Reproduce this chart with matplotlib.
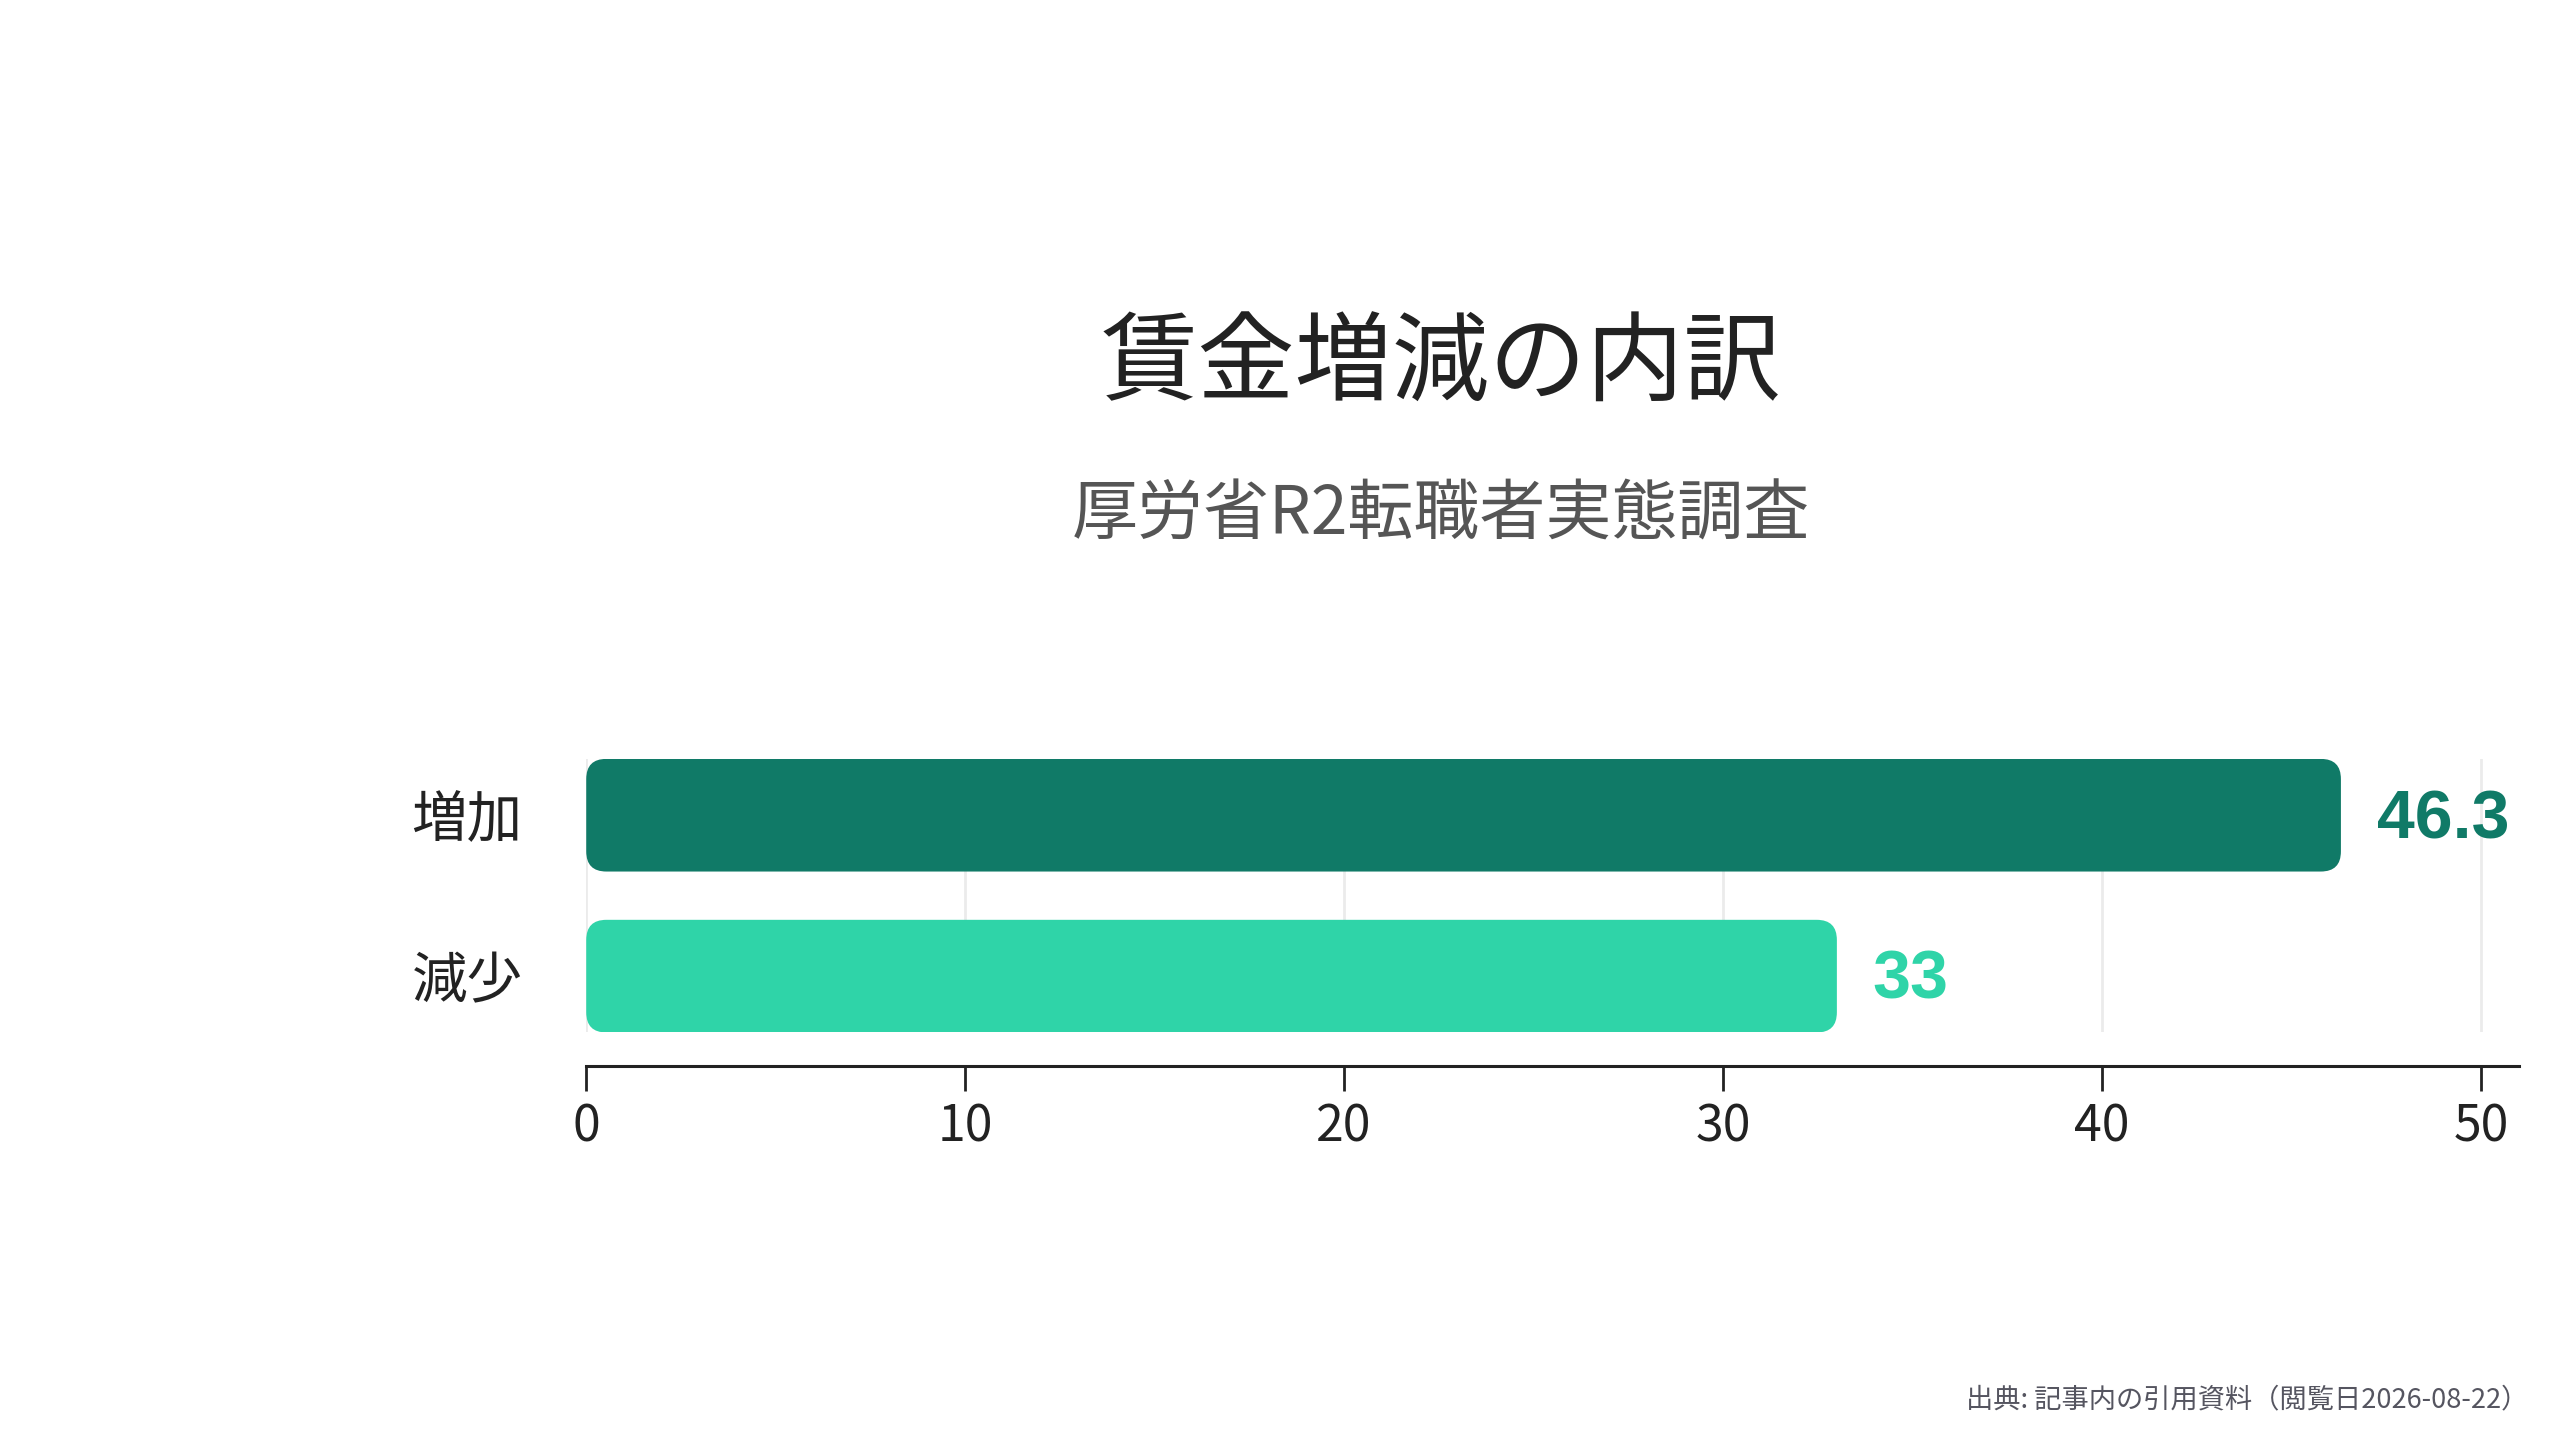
import matplotlib
matplotlib.use('Agg')
import matplotlib.pyplot as plt
from matplotlib.patches import FancyBboxPatch

plt.rcParams['font.family'] = ['Noto Sans CJK JP', 'DejaVu Sans']

# data
categories = ['増加', '減少']
values = [46.3, 33]
bar_colors = ['#107A67', '#2FD4A8']
x_ticks = [0, 10, 20, 30, 40, 50]

title = '賃金増減の内訳'
subtitle = '厚労省R2転職者実態調査'
source = '出典: 記事内の引用資料（閲覧日2026-08-22）'


def main():
    fig = plt.figure(figsize=(25.6, 14.4), dpi=100)
    ax = fig.add_axes([0.229, 0.283, 0.755, 0.190])

    ypos = [1, 0]
    bars = ax.barh(ypos, values, height=0.7, color=bar_colors)

    # swap the plain rectangles for rounded ones
    rx = 0.53
    ry = 0.125
    for rect, col in zip(bars.patches, bar_colors):
        x0, y0 = rect.get_x(), rect.get_y()
        w, h = rect.get_width(), rect.get_height()
        rect.remove()
        ax.add_patch(FancyBboxPatch(
            (x0, y0), w, h,
            boxstyle=f'round,pad=0,rounding_size={rx}',
            mutation_aspect=ry / rx,
            facecolor=col, edgecolor='none', zorder=3))

    for y, v, col in zip(ypos, values, bar_colors):
        ax.text(v + 0.95, y - 0.03, f'{v:g}', va='center', ha='left',
                fontsize=49, fontweight='bold', color=col,
                family=['Liberation Sans', 'DejaVu Sans'])

    ax.set_xlim(0, 51)
    ax.set_ylim(-0.35, 1.35)
    ax.set_xticks(x_ticks)
    ax.set_xticklabels([str(t) for t in x_ticks])
    ax.set_yticks(ypos)
    ax.set_yticklabels(categories)

    ax.grid(axis='x', color='#EBEBEB', linewidth=2, zorder=0)
    ax.set_axisbelow(True)

    for s in ['top', 'right', 'left']:
        ax.spines[s].set_visible(False)
    ax.spines['bottom'].set_position(('outward', 24))
    ax.spines['bottom'].set_linewidth(2.2)
    ax.spines['bottom'].set_color('#222222')

    ax.tick_params(axis='x', length=18, width=2, color='#222222',
                   labelsize=36, labelcolor='#222222', pad=8)
    ax.tick_params(axis='y', length=0, labelsize=40,
                   labelcolor='#222222', pad=46)

    fig.text(0.563, 0.746, title, ha='center', va='center',
             fontsize=70, color='#222222')
    fig.text(0.563, 0.642, subtitle, ha='center', va='center',
             fontsize=47.5, color='#555555')
    fig.text(0.9875, 0.028, source, ha='right', va='center',
             fontsize=19.6, color='#555560')

    fig.savefig('out.png', dpi=100, facecolor='white')


if __name__ == '__main__':
    main()
